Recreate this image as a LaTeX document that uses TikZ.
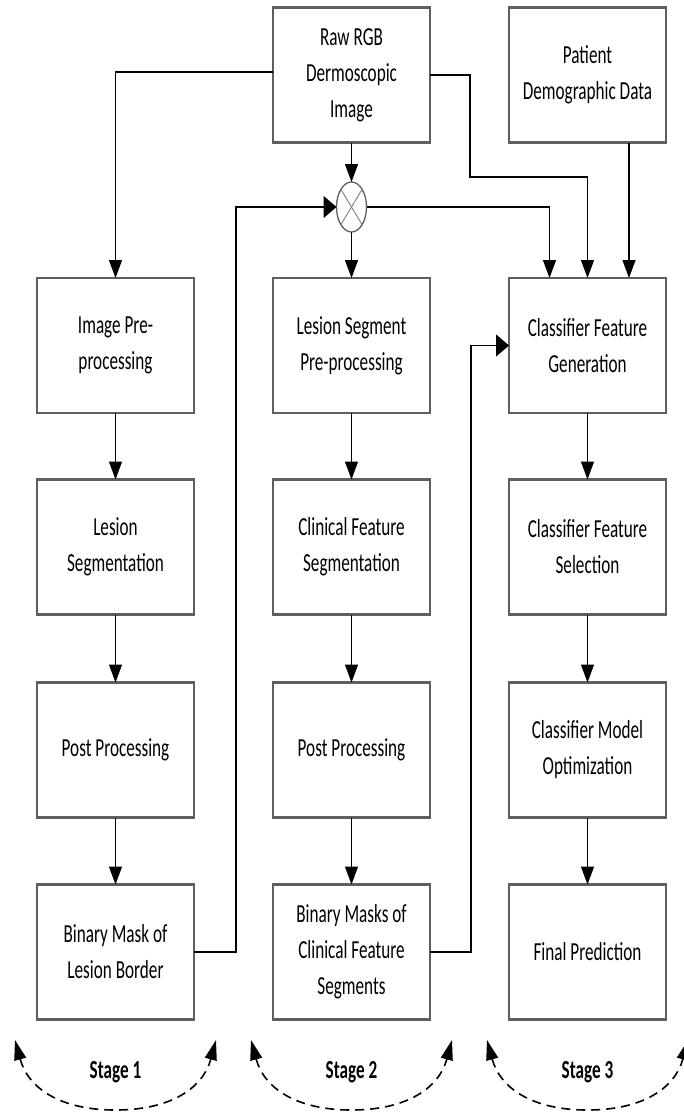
\documentclass[tikz,border=0pt]{standalone}
\usepackage{fontspec}
\setmainfont{Carlito}[FakeStretch=0.66]
\usetikzlibrary{arrows.meta,shapes.geometric}
\definecolor{boxline}{RGB}{95,95,95}
\definecolor{crossline}{RGB}{125,125,125}

\begin{document}
\begin{tikzpicture}[x=1pt,y=-1pt,
  box/.style={draw=boxline, line width=2.2pt, minimum width=157pt, minimum height=135pt,
    inner sep=0pt, outer sep=0pt, align=center, font=\fontsize{26}{36}\selectfont},
  mixer/.style={draw=boxline, ellipse, line width=1.3pt, minimum width=30pt,
    minimum height=50pt, inner sep=0pt, outer sep=0pt},
  vflow/.style={draw=black, line width=1.3pt, -{Triangle[length=18pt,width=13pt]}},
  hflow/.style={draw=black, line width=1.3pt, -{Triangle[length=13pt,width=22pt]}},
  stagearc/.style={draw=black, line width=1.6pt, dash pattern=on 9pt off 6pt,
    {Triangle[length=20pt,width=12pt]}-{Triangle[length=20pt,width=12pt]}},
  stagelbl/.style={font=\fontsize{26}{36}\selectfont\bfseries, inner sep=0pt},
  ]
\useasboundingbox (0,0) rectangle (683,1113);

% top inputs
\node[box] (raw) at (351.5,75) {Raw RGB\\Dermoscopic\\Image};
\node[box] (pat) at (587.5,75) {Patient\\Demographic Data};

% stage 1 column
\node[box] (pre)  at (115.5,345.5) {Image Pre-\\processing};
\node[box] (seg)  at (115.5,547)   {Lesion\\Segmentation};
\node[box] (post1) at (115.5,750)  {Post Processing};
\node[box] (mask1) at (115.5,952)  {Binary Mask of\\Lesion Border};

% stage 2 column
\node[box] (lsp)  at (351.5,345.5) {Lesion Segment\\Pre-processing};
\node[box] (cfs)  at (351.5,547)   {Clinical Feature\\Segmentation};
\node[box] (post2) at (351.5,750)  {Post Processing};
\node[box] (mask2) at (351.5,952)  {Binary Masks of\\Clinical Feature\\Segments};

% stage 3 column
\node[box] (gen)  at (587.5,345.5) {Classifier Feature\\Generation};
\node[box] (sel)  at (587.5,547)   {Classifier Feature\\Selection};
\node[box] (opt)  at (587.5,750)   {Classifier Model\\Optimization};
\node[box] (pred) at (587.5,952)   {Final Prediction};

% multiplier joining the image and the lesion mask
\node[mixer] (mul) at (351.5,207) {};
\draw[crossline, line width=0.9pt] (mul.center) ++(-10.6,-17.7) -- ++(21.2,35.4);
\draw[crossline, line width=0.9pt] (mul.center) ++(10.6,-17.7) -- ++(-21.2,35.4);

% routing corners
\coordinate (k1) at (470,177);
\coordinate (k3) at (236,207);
\coordinate (k4) at (471,345.5);

% input connections
\draw[vflow] ([yshift=3pt]raw.west) -| (pre.north);
\draw[vflow] (raw.south) -- (mul.north);
\draw[vflow] (raw.east) -| (k1) -| (gen.north);
\draw[vflow] (mul.east) -| ([xshift=-38pt]gen.north);
\draw[vflow] ([xshift=41.5pt]pat.south) -- ([xshift=41.5pt]gen.north);
\draw[vflow] (mul.south) -- (lsp.north);

% feedback from the masks
\draw[hflow] (mask1.east) -| (k3) -- (mul.west);
\draw[hflow] (mask2.east) -| (k4) -- (gen.west);

% column chains
\draw[vflow] (pre.south) -- (seg.north);
\draw[vflow] (seg.south) -- (post1.north);
\draw[vflow] (post1.south) -- (mask1.north);
\draw[vflow] (lsp.south) -- (cfs.north);
\draw[vflow] (cfs.south) -- (post2.north);
\draw[vflow] (post2.south) -- (mask2.north);
\draw[vflow] (gen.south) -- (sel.north);
\draw[vflow] (sel.south) -- (opt.north);
\draw[vflow] (opt.south) -- (pred.north);

% stage labels and loops
\node[stagelbl] (st1) at (115.5,1072) {Stage 1};
\node[stagelbl] (st2) at (351.5,1072) {Stage 2};
\node[stagelbl] (st3) at (587.5,1072) {Stage 3};

\foreach \cx/\nm in {115.5/a, 351.5/b, 587.5/c}{
  \coordinate (\nm L) at (\cx-100.5,1040);
  \coordinate (\nm R) at (\cx+100.5,1040);
  \draw[stagearc] (\nm L) .. controls (\cx-87.5,1088) and (\cx-55.5,1110) .. (\cx,1110)
    .. controls (\cx+55.5,1110) and (\cx+87.5,1088) .. (\nm R);
}
\end{tikzpicture}
\end{document}
